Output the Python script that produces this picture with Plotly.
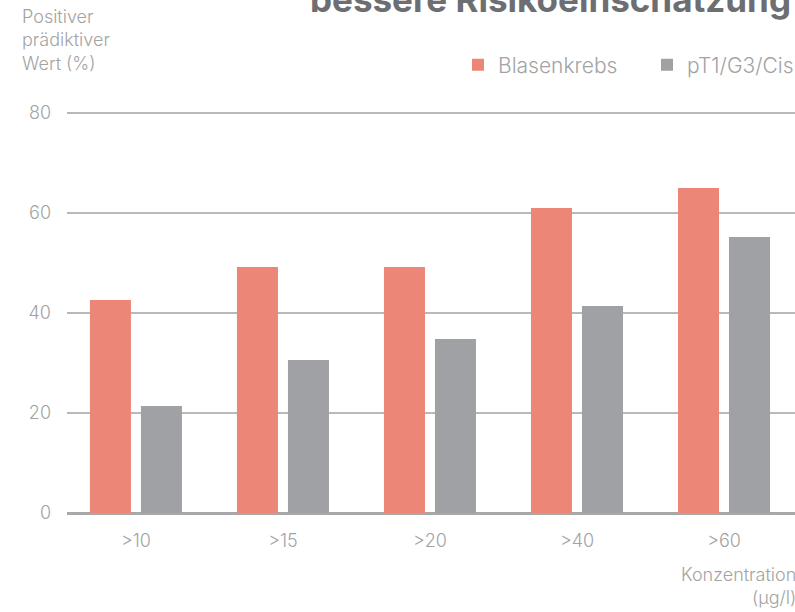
import plotly.graph_objects as go

categories = [">10", ">15", ">20", ">40", ">60"]
blasenkrebs = [42.6, 49.2, 49.2, 61.0, 65.0]
pt1_g3_cis = [21.4, 30.6, 34.8, 41.4, 55.2]
y_ticks = [0, 20, 40, 60, 80]

RED = "#EC8777"
GRAY = "#A0A1A4"
TXT = "#A3A3A3"
FONT = "Inter"

fig = go.Figure()
fig.add_trace(go.Bar(name="Blasenkrebs", x=categories, y=blasenkrebs, marker_color=RED,
                     marker_line_width=0, legend="legend"))
fig.add_trace(go.Bar(name="pT1/G3/Cis", x=categories, y=pt1_g3_cis, marker_color=GRAY,
                     marker_line_width=0, legend="legend2"))

TOP = 108
PH = 405  # plot height px (range 0..81 at 5 px/unit)
PW = 728

leg_common = dict(orientation="h", xanchor="right", y=1.0 + (TOP - 65) / PH, yanchor="middle",
                  font=dict(size=21, color=TXT, weight=300), itemsizing="constant", itemwidth=30,
                  bgcolor="rgba(0,0,0,0)")

fig.update_layout(
    width=795, height=612,
    margin=dict(l=67, r=0, t=TOP, b=99, autoexpand=False),
    paper_bgcolor="white", plot_bgcolor="white",
    barmode="group", bargap=0.306, bargroupgap=0.196,
    font=dict(family=FONT, color=TXT, size=18, weight=300),
    showlegend=True,
    legend=dict(x=(623 - 67) / PW, **leg_common),
    legend2=dict(x=1.0 + 4 / PW, **leg_common),
    xaxis=dict(range=[-0.469, 4.483], showgrid=False, ticks="", showline=False,
               ticklabelstandoff=15, tickfont=dict(size=18, color=TXT)),
    yaxis=dict(range=[0, 81], tickvals=y_ticks, showgrid=True, gridcolor="#B8B9BB", gridwidth=1.5,
               zeroline=True, zerolinecolor="#A7A8AA", zerolinewidth=2.5,
               ticks="", ticklabelstandoff=15, tickfont=dict(size=18, color=TXT)),
)

fig.add_annotation(text="Positiver<br>prädiktiver<br>Wert (%)", xref="paper", yref="paper",
                   x=-47 / PW, y=1.0 + (TOP - 4) / PH, xanchor="left", yanchor="top", align="left",
                   showarrow=False, font=dict(size=18, color=TXT, weight=300))
fig.add_annotation(text="Konzentration<br>(µg/l)", xref="paper", yref="paper",
                   x=1.004, y=-49 / PH, xanchor="right", yanchor="top", align="right",
                   showarrow=False, font=dict(size=18, color=TXT, weight=300))
fig.add_annotation(text="<b>bessere Risikoeinschätzung</b>", xref="paper", yref="paper",
                   x=0.997, y=1.0 + (TOP - 22) / PH, xanchor="right", yanchor="bottom", align="right",
                   showarrow=False, font=dict(size=35, color="#6D6E71", family=FONT))

fig.write_html("out.html", config={"displayModeBar": False},
               post_script="document.body.style.margin='0';document.body.style.overflow='hidden';")
